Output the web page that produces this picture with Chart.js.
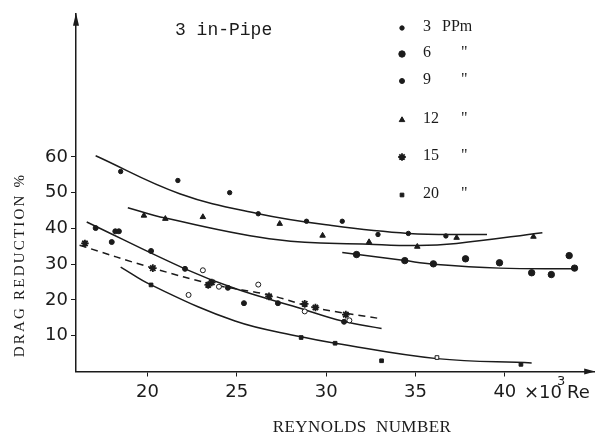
<!DOCTYPE html>
<html>
<head>
<meta charset="utf-8">
<script src="https://cdn.jsdelivr.net/npm/chart.js@4.4.0/dist/chart.umd.min.js"></script>
<style>
html, body { margin: 0; padding: 0; background: #fff; }
#wrap { width: 600px; height: 439px; }
</style>
</head>
<body>
<div id="wrap"><canvas id="dragChart" width="600" height="439"></canvas></div>
<script>
// Values: Re in 10^3, drag reduction in %
const ppmLabels = ['3', '6', '9', '12', '15', '20'];

const ppm3X = [18.5, 21.7, 24.6, 26.2, 28.9, 30.9, 32.9, 34.6, 36.7];
const ppm3Y = [55.9, 53.4, 50.0, 44.1, 42.0, 42.0, 38.3, 38.6, 37.9];

const ppm6X = [31.7, 34.4, 36.0, 37.8, 39.7, 41.5, 42.6, 43.6, 43.9];
const ppm6Y = [32.7, 31.0, 30.1, 31.5, 30.4, 27.6, 27.1, 32.4, 28.9];

const ppm9X = [17.1, 18.0, 18.2, 18.4, 20.2, 22.1, 23.1, 22.3, 24.0, 24.5, 25.4, 26.2, 27.3, 28.8, 31.0, 31.3];
const ppm9Y = [40.1, 36.2, 39.2, 39.2, 33.7, 28.7, 28.3, 21.4, 23.7, 23.4, 19.1, 24.3, 19.1, 16.8, 13.9, 14.3];
const ppm9Open = [6, 7, 8, 11, 13, 15];   // open circles

const ppm12X = [19.8, 21.0, 23.1, 27.4, 29.8, 32.4, 35.1, 37.3, 41.6];
const ppm12Y = [43.6, 42.7, 43.2, 41.3, 38.0, 36.2, 34.9, 37.4, 37.7];

const ppm15X = [16.5, 20.3, 23.4, 23.6, 26.8, 28.8, 29.4, 31.1];
const ppm15Y = [35.8, 28.9, 24.2, 24.9, 21.0, 18.9, 17.9, 15.9];

const ppm20X = [20.2, 28.6, 30.5, 33.1, 36.2, 40.9];
const ppm20Y = [24.2, 9.5, 7.9, 3.0, 3.9, 2.0];
const ppm20Open = [4];

// hand-drawn fitted curves
const fitAX = [17.1, 21.8, 26.2, 30.0, 34.6, 39.0];
const fitAY = [60.3, 49.7, 44.1, 41.0, 38.6, 38.3];
const fitBX = [18.9, 21.0, 27.3, 32.4, 35.1, 37.3, 42.1];
const fitBY = [45.8, 42.9, 36.8, 35.6, 35.2, 35.8, 38.8];
const fitCX = [30.9, 34.4, 36.0, 39.7, 43.8];
const fitCY = [33.3, 31.0, 30.0, 28.9, 28.7];
const fitDX = [16.6, 22.1, 24.9, 28.4, 30.9, 33.1];
const fitDY = [41.8, 28.7, 23.2, 17.9, 14.1, 12.0];
const fitEX = [16.2, 20.3, 23.8, 26.8, 29.4, 33.0];   // dashed
const fitEY = [35.3, 28.9, 24.2, 21.4, 17.8, 14.8];
const fitFX = [18.5, 20.2, 24.9, 28.6, 30.5, 36.2, 41.5];
const fitFY = [29.2, 24.2, 14.1, 9.7, 7.9, 3.6, 2.4];

const xTicks = [20, 25, 30, 35, 40];
const yTicks = [10, 20, 30, 40, 50, 60];

const ink = '#1b1b1b';

function pts(xs, ys) {
    return xs.map((x, i) => ({ x: x, y: ys[i] }));
}

function openFill(list) {
    return ctx => list.includes(ctx.dataIndex) ? '#ffffff' : ink;
}

const markerSets = [
    { data: pts(ppm3X, ppm3Y), pointStyle: 'circle', pointRadius: 2.2, backgroundColor: ink },
    { data: pts(ppm6X, ppm6Y), pointStyle: 'circle', pointRadius: 3.2, backgroundColor: ink },
    { data: pts(ppm9X, ppm9Y), pointStyle: 'circle', pointRadius: 2.5, backgroundColor: openFill(ppm9Open) },
    { data: pts(ppm12X, ppm12Y), pointStyle: 'triangle', pointRadius: 3.2, backgroundColor: ink },
    { data: pts(ppm15X, ppm15Y), pointStyle: 'star', pointRadius: 3.8, backgroundColor: ink, borderWidth: 1.8 },
    { data: pts(ppm20X, ppm20Y), pointStyle: 'rect', pointRadius: 2.6, backgroundColor: openFill(ppm20Open) }
].map((d, i) => Object.assign({
    label: ppmLabels[i],
    borderColor: ink,
    borderWidth: 1,
    showLine: false
}, d));

const curveSets = [
    [fitAX, fitAY, false], [fitBX, fitBY, false], [fitCX, fitCY, false],
    [fitDX, fitDY, false], [fitEX, fitEY, true], [fitFX, fitFY, false]
].map(c => ({
    label: 'fit',
    data: pts(c[0], c[1]),
    showLine: true,
    borderColor: ink,
    borderWidth: 1.5,
    borderDash: c[2] ? [7, 5] : [],
    pointRadius: 0,
    tension: 0.4,
    fill: false
}));

// arrows, titles, annotation and the hand-placed legend
const figureText = {
    id: 'figureText',
    afterDraw(chart) {
        const { ctx, chartArea: a } = chart;
        ctx.save();
        ctx.fillStyle = ink;

        // axis arrows
        ctx.beginPath();
        ctx.moveTo(a.left, a.top - 1);
        ctx.lineTo(a.left - 3, a.top + 12);
        ctx.lineTo(a.left + 3, a.top + 12);
        ctx.closePath();
        ctx.fill();
        ctx.beginPath();
        ctx.moveTo(a.right + 1, a.bottom);
        ctx.lineTo(a.right - 10, a.bottom - 3);
        ctx.lineTo(a.right - 10, a.bottom + 3);
        ctx.closePath();
        ctx.fill();

        ctx.textAlign = 'left';
        ctx.textBaseline = 'alphabetic';
        ctx.font = '18px "Liberation Mono"';
        ctx.fillText('3 in-Pipe', 175, 35);

        // x-axis multiplier after the last tick
        ctx.font = '18px "DejaVu Sans"';
        ctx.fillText('\u00d710', 524, 398);
        ctx.font = '13px "DejaVu Sans"';
        ctx.fillText('3', 557, 385);
        ctx.font = '18px "DejaVu Sans"';
        ctx.fillText('Re', 567, 398);

        // axis titles
        ctx.font = '17px "Liberation Serif"';
        ctx.textAlign = 'center';
        ctx.letterSpacing = '0.4px';
        ctx.fillText('REYNOLDS  NUMBER', 362, 432);

        ctx.save();
        ctx.translate(20, 265);
        ctx.rotate(-Math.PI / 2);
        ctx.font = '15px "Liberation Serif"';
        ctx.letterSpacing = '2.2px';
        ctx.textBaseline = 'middle';
        ctx.fillText('DRAG REDUCTION %', 0, 0);
        ctx.restore();
        ctx.letterSpacing = '0px';

        // legend
        const rowY = [26, 52, 79, 118, 155, 193];
        ctx.font = '16px "Liberation Serif"';
        ctx.textAlign = 'left';
        markerSets.forEach((ds, i) => {
            ctx.fillStyle = ink;
            ctx.strokeStyle = ink;
            ctx.lineWidth = ds.borderWidth;
            Chart.helpers.drawPoint(ctx, {
                pointStyle: ds.pointStyle,
                radius: ds.pointRadius,
                rotation: 0,
                borderWidth: ds.borderWidth
            }, 402, rowY[i] + 2);
            ctx.fillText(ds.label, 423, rowY[i] + 5);
            if (i === 0) {
                ctx.fillText('PPm', 442, rowY[i] + 5);
            } else {
                ctx.fillText('"', 461, rowY[i] + 5);
            }
        });
        ctx.restore();
    }
};

new Chart(document.getElementById('dragChart'), {
    type: 'scatter',
    data: { datasets: markerSets.concat(curveSets) },
    options: {
        responsive: false,
        animation: false,
        layout: { padding: { top: 6.5, right: 2, left: 0, bottom: 0 } },
        plugins: { legend: { display: false }, tooltip: { enabled: false } },
        scales: {
            x: {
                type: 'linear',
                min: 16,
                max: 45,
                afterFit: s => { s.height = 67.5; },
                afterBuildTicks: s => { s.ticks = xTicks.map(v => ({ value: v })); },
                ticks: { color: ink, font: { family: 'DejaVu Sans', size: 18 }, padding: 5, maxRotation: 0 },
                grid: { drawOnChartArea: false, drawTicks: true, tickLength: 5, color: ink },
                border: { display: true, color: ink, width: 1.5 }
            },
            y: {
                type: 'linear',
                min: 0,
                max: 100,
                afterFit: s => { s.width = 76; },
                afterBuildTicks: s => { s.ticks = yTicks.map(v => ({ value: v })); },
                ticks: { color: ink, font: { family: 'DejaVu Sans', size: 18 }, padding: 3 },
                grid: { drawOnChartArea: false, drawTicks: true, tickLength: 5, color: ink },
                border: { display: true, color: ink, width: 1.5 }
            }
        }
    },
    plugins: [figureText]
});
</script>
</body>
</html>
